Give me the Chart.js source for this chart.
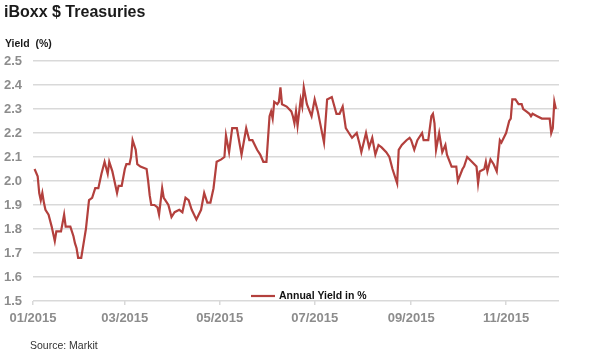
<!DOCTYPE html>
<html>
<head>
<meta charset="utf-8">
<script src="https://cdn.jsdelivr.net/npm/chart.js@4.4.1/dist/chart.umd.min.js"></script>
<style>
html,body{margin:0;padding:0;background:#fff;}
#wrap{position:relative;width:590px;height:354px;overflow:hidden;font-family:"Liberation Sans",Arial,sans-serif;}
canvas{position:absolute;left:0;top:0;}
.t{position:absolute;white-space:nowrap;line-height:1;}
#title{left:4px;top:3.5px;font-size:16px;font-weight:bold;color:#1a1a1a;}
#ylab{left:5px;top:38px;font-size:10.5px;font-weight:bold;color:#1a1a1a;}
#src{left:30px;top:340px;font-size:10.5px;color:#333;}
</style>
</head>
<body>
<div id="wrap">
<canvas id="c" width="590" height="354"></canvas>
<div class="t" id="title">iBoxx $ Treasuries</div>
<div class="t" id="ylab">Yield&nbsp;&nbsp;(%)</div>
<div class="t" id="src">Source: Markit</div>
</div>
<script>
// Days since 2015-01-01
const days = [1,3,4,5,6,7,8,10,12,14,15,17,18,20,21,23,24,26,27,28,29,30,31,33,34,36,38,40,42,44,46,48,49,51,52,54,55,57,59,60,62,63,64,66,67,69,73,74,75,76,78,80,81,83,84,85,87,89,91,94,96,98,100,102,105,108,110,112,114,116,118,121,123,124,126,128,131,134,137,139,141,144,146,148,150,152,153,154,155,157,158,159,160,163,166,167,168,169,170,172,173,174,176,179,181,183,187,189,192,195,197,199,201,203,205,208,210,211,214,216,218,220,222,224,227,229,231,234,235,237,240,242,243,245,247,250,251,254,256,257,258,259,261,263,265,266,269,272,273,276,277,279,282,285,286,287,290,291,292,294,296,298,300,301,304,306,307,308,310,312,314,315,317,319,320,321,324,327,330,332,333,334,335,336];
// Annual yield in %
const yields = [2.05,2.02,1.95,1.92,1.95,1.91,1.88,1.86,1.81,1.75,1.79,1.79,1.79,1.86,1.81,1.81,1.81,1.77,1.74,1.72,1.68,1.68,1.68,1.76,1.80,1.92,1.93,1.97,1.97,2.03,2.08,2.03,2.08,2.04,2.01,1.95,1.98,1.98,2.05,2.07,2.07,2.10,2.17,2.13,2.07,2.06,2.05,2.00,1.94,1.90,1.90,1.89,1.86,1.97,1.93,1.92,1.90,1.85,1.87,1.88,1.87,1.93,1.92,1.88,1.84,1.88,1.95,1.91,1.91,1.97,2.08,2.09,2.10,2.19,2.12,2.22,2.22,2.11,2.22,2.17,2.17,2.13,2.11,2.08,2.08,2.27,2.29,2.26,2.33,2.32,2.33,2.39,2.32,2.31,2.29,2.27,2.24,2.29,2.23,2.34,2.31,2.39,2.32,2.27,2.34,2.29,2.16,2.34,2.35,2.28,2.28,2.31,2.22,2.20,2.18,2.20,2.15,2.12,2.20,2.14,2.18,2.11,2.15,2.14,2.12,2.10,2.05,1.99,2.13,2.15,2.17,2.18,2.17,2.13,2.17,2.20,2.17,2.17,2.27,2.28,2.24,2.13,2.20,2.12,2.15,2.11,2.06,2.06,2.00,2.05,2.06,2.10,2.08,2.06,1.99,2.04,2.05,2.08,2.04,2.09,2.07,2.04,2.17,2.16,2.20,2.25,2.26,2.34,2.34,2.32,2.32,2.30,2.29,2.28,2.27,2.28,2.27,2.26,2.26,2.26,2.20,2.22,2.33,2.30];
const seriesLabel = "Annual Yield in %";
// X tick positions (days since 2015-01-01) and labels
const xTickDays = [0,59,120,181,243,304];
const xTickLabels = ["01/2015","03/2015","05/2015","07/2015","09/2015","11/2015"];
const yTickValues = [1.5,1.6,1.7,1.8,1.9,2.0,2.1,2.2,2.3,2.4,2.5];

const FONT = '"Liberation Sans", Arial, sans-serif';
const LINE_COLOR = '#b3403d';

const inlineLegend = {
  id: 'inlineLegend',
  afterDatasetsDraw(chart) {
    const {ctx, chartArea: a} = chart;
    const ds = chart.data.datasets[0];
    const y = a.bottom - 5;
    const x0 = a.left + 218;
    ctx.save();
    ctx.strokeStyle = ds.borderColor;
    ctx.lineWidth = 2.2;
    ctx.beginPath();
    ctx.moveTo(x0, y);
    ctx.lineTo(x0 + 24, y);
    ctx.stroke();
    ctx.fillStyle = '#111';
    ctx.font = 'bold 10.5px ' + FONT;
    ctx.textBaseline = 'middle';
    ctx.textAlign = 'left';
    ctx.fillText(ds.label, x0 + 28, y);
    ctx.restore();
  }
};

new Chart(document.getElementById('c'), {
  type: 'line',
  data: {
    datasets: [{
      label: seriesLabel,
      data: days.map((d, i) => ({x: d, y: yields[i]})),
      borderColor: LINE_COLOR,
      borderWidth: 2.2,
      pointRadius: 0,
      tension: 0,
      fill: false
    }]
  },
  options: {
    responsive: false,
    animation: false,
    devicePixelRatio: 1,
    layout: {padding: {left: 0, right: 31, top: 61, bottom: 23}},
    plugins: {legend: {display: false}, tooltip: {enabled: false}},
    scales: {
      x: {
        type: 'linear',
        min: 0,
        max: 338,
        afterBuildTicks: s => { s.ticks = xTickDays.map(v => ({value: v})); },
        afterFit: s => { s.height = 30; },
        ticks: {
          autoSkip: false,
          maxRotation: 0,
          padding: 6,
          color: '#8c8c8c',
          font: {family: FONT, size: 13, weight: 'bold'},
          callback: v => xTickLabels[xTickDays.indexOf(v)]
        },
        grid: {drawOnChartArea: false, drawTicks: true, tickLength: 4, color: '#d9d9d9', lineWidth: 1.5},
        border: {display: false}
      },
      y: {
        min: 1.5,
        max: 2.5,
        afterBuildTicks: s => { s.ticks = yTickValues.map(v => ({value: v})); },
        afterFit: s => { s.width = 33; },
        ticks: {
          padding: 11,
          color: '#8c8c8c',
          font: {family: FONT, size: 13, weight: 'bold'},
          callback: v => Number(v).toFixed(1)
        },
        grid: {color: '#d9d9d9', lineWidth: 1.5, drawTicks: false},
        border: {display: false}
      }
    }
  },
  plugins: [inlineLegend]
});
</script>
</body>
</html>
